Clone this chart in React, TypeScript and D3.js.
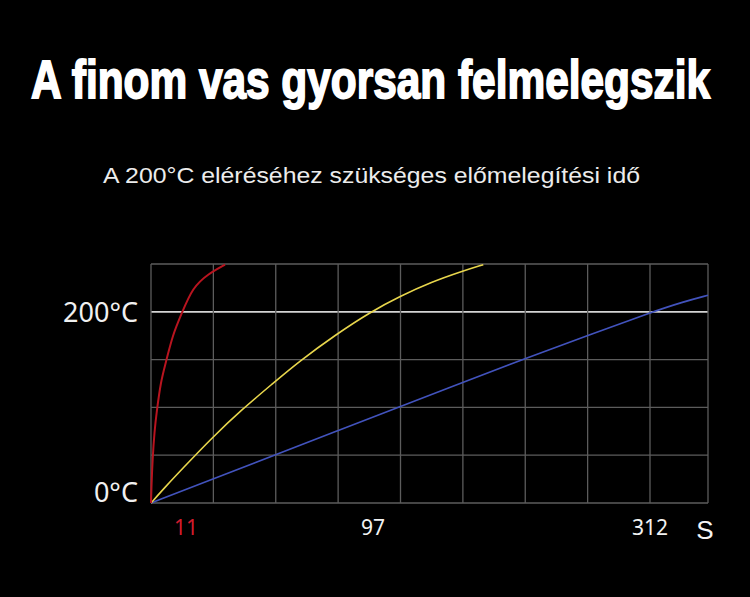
import React, { useLayoutEffect, useRef, useState } from "react";
import * as d3 from "d3";

const title = "A finom vas gyorsan felmelegszik";
const subtitle = "A 200°C eléréséhez szükséges előmelegítési idő";

// time axis breakpoints (s) – the original axis is not linear
const timeBreaks = [0, 11, 97, 312, 357];
const xTicks = [
  { t: 11, label: "11", color: "#d21c2c" },
  { t: 97, label: "97", color: "#f2f2f2" },
  { t: 312, label: "312", color: "#f2f2f2" },
];
const tempTicks = [0, 200];
const tempGrid = [0, 50, 100, 150, 200, 250];
const gridColumns = [0, 1, 2, 3, 4, 5, 6, 7, 8];

// series: [time s, temperature °C]
const redSeries: [number, number][] = [
  [0, 0], [0.18, 17.8], [0.6, 45.7], [1.24, 73.2], [2.13, 97.3],
  [3.55, 125.5], [5.32, 147.8], [7.81, 174.7], [11, 199.1],
  [16.2, 223.3], [23.0, 238.8], [30.7, 249.3],
];
const yellowSeries: [number, number][] = [
  [0, 0], [5.32, 17.6], [11, 35.4], [24.6, 68.0], [38.3, 97.6],
  [52.8, 125.5], [64.2, 147.5], [81.8, 176.8], [97, 199.5],
  [120, 216.2], [144.4, 231.2], [167.4, 242.2], [184, 249.3],
];
const blueSeries: [number, number][] = [
  [0, 0], [24.7, 24.7], [81.9, 75.3], [167.6, 125.9], [216.0, 151.2],
  [264.4, 175.4], [312, 199.1], [337.4, 210.3], [357, 217.3],
];

export default function App() {
  const titleRef = useRef<SVGTextElement>(null);
  const [titleScale, setTitleScale] = useState(0.8);

  useLayoutEffect(() => {
    if (titleRef.current) {
      const len = titleRef.current.getComputedTextLength();
      if (len > 0) setTitleScale(679 / len);
    }
  }, []);

  const x = d3
    .scaleLinear()
    .domain(timeBreaks)
    .range([151, 182, 370, 650, 708]);
  const y = d3.scaleLinear().domain([0, 250]).range([503, 264]);
  const gx = d3.scaleLinear().domain([0, 8]).range([x(0), x(312)]);

  const smooth = d3
    .line<[number, number]>()
    .x((d) => x(d[0]))
    .y((d) => y(d[1]))
    .curve(d3.curveBasis);
  const steep = d3
    .line<[number, number]>()
    .x((d) => x(d[0]))
    .y((d) => y(d[1]))
    .curve(d3.curveNatural);

  const gridColor = "#5c5c5c";

  return (
    <svg
      width={750}
      height={597}
      style={{ position: "absolute", left: 0, top: 0, display: "block" }}
    >
      <rect x={0} y={0} width={750} height={597} fill="#000" />
      <g transform={`translate(370.5,98) scale(${titleScale},1.14)`}>
        <text
          ref={titleRef}
          x={0}
          y={0}
          textAnchor="middle"
          fill="#fff"
          stroke="#fff"
          strokeWidth={1.6}
          fontFamily="'Liberation Sans Narrow', 'Liberation Sans', Arial, sans-serif"
          fontWeight={700}
          fontSize={47}
        >
          {title}
        </text>
      </g>
      <text
        x={103}
        y={183}
        fill="#ececec"
        fontFamily="'Liberation Sans', Arial, sans-serif"
        fontSize={22}
        textLength={537}
        lengthAdjust="spacingAndGlyphs"
      >
        {subtitle}
      </text>

      {/* horizontal grid */}
      {tempGrid.map((t) => (
        <line
          key={"h" + t}
          x1={x(0)}
          x2={x(357)}
          y1={y(t)}
          y2={y(t)}
          stroke={t === 200 ? "#d4d4d4" : gridColor}
          strokeWidth={t === 200 ? 1.8 : 1.3}
        />
      ))}
      {/* vertical grid */}
      {gridColumns.map((c) => (
        <line
          key={"v" + c}
          x1={gx(c)}
          x2={gx(c)}
          y1={y(0)}
          y2={y(250)}
          stroke={gridColor}
          strokeWidth={1.3}
        />
      ))}
      <line
        x1={x(357)}
        x2={x(357)}
        y1={y(0)}
        y2={y(250)}
        stroke={gridColor}
        strokeWidth={1.3}
      />

      <path d={smooth(blueSeries) || ""} fill="none" stroke="#4253bd" strokeWidth={1.6} />
      <path d={smooth(yellowSeries) || ""} fill="none" stroke="#e8d64c" strokeWidth={1.6} />
      <path d={steep(redSeries) || ""} fill="none" stroke="#b8141f" strokeWidth={2} />

      {/* y tick labels */}
      {tempTicks.map((t) => (
        <text
          key={"yt" + t}
          x={138}
          y={t === 0 ? 502 : y(t) + 10}
          textAnchor="end"
          fill="#f0f0f0"
          fontFamily="'Noto Sans', 'Open Sans', sans-serif"
          fontSize={27}
        >
          {t + "°C"}
        </text>
      ))}

      {/* x tick labels */}
      {xTicks.map((d) => (
        <text
          key={"xt" + d.t}
          x={x(d.t) + (d.t === 11 ? 4 : d.t === 97 ? 3 : 0)}
          y={535}
          textAnchor="middle"
          fill={d.color}
          fontFamily="'Noto Sans', 'Open Sans', sans-serif"
          fontSize={21}
        >
          {d.label}
        </text>
      ))}
      <text
        x={705}
        y={539}
        textAnchor="middle"
        fill="#f4f4f4"
        fontFamily="'Liberation Sans', Arial, sans-serif"
        fontSize={26}
      >
        S
      </text>
    </svg>
  );
}
